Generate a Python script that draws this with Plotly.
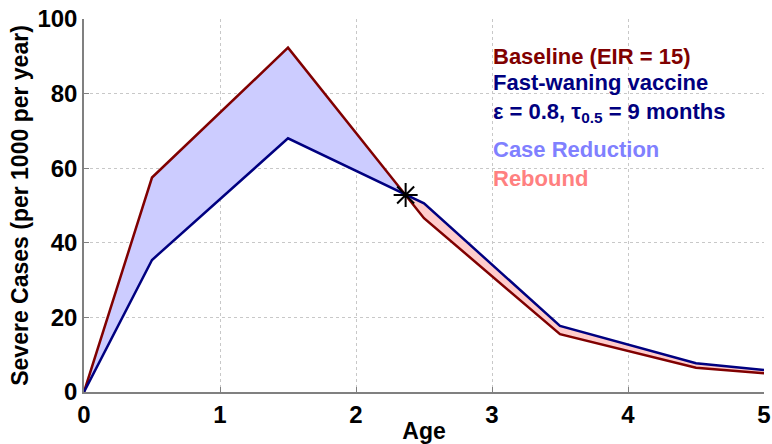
import plotly.graph_objects as go

ages = [0, 0.5, 1.5, 2.5, 3.5, 4.5, 5]
baseline = [0, 57.5, 92.3, 46.6, 15.5, 6.5, 5.0]
vaccine = [0, 35.4, 68.0, 50.6, 17.7, 7.7, 5.9]
cross_x = [2.365]
cross_y = [52.8]

RED = "#800000"
NAVY = "#000080"
FONT = "Liberation Sans, Arial, sans-serif"

pre = [i for i, a in enumerate(ages) if a < cross_x[0]]
post = [i for i, a in enumerate(ages) if a > cross_x[0]]

red_x = [ages[i] for i in pre] + cross_x + [ages[i] for i in reversed(pre)]
red_y = [baseline[i] for i in pre] + cross_y + [vaccine[i] for i in reversed(pre)]
reb_x = cross_x + [ages[i] for i in post] + [ages[i] for i in reversed(post)] + cross_x
reb_y = cross_y + [baseline[i] for i in post] + [vaccine[i] for i in reversed(post)] + cross_y

fig = go.Figure()
fig.add_trace(go.Scatter(x=red_x, y=red_y, fill="toself", fillcolor="#ccccff",
                         line=dict(width=0), mode="lines", hoverinfo="skip"))
fig.add_trace(go.Scatter(x=reb_x, y=reb_y, fill="toself", fillcolor="#ffcccc",
                         line=dict(width=0), mode="lines", hoverinfo="skip"))
fig.add_trace(go.Scatter(x=ages, y=baseline, mode="lines", line=dict(color=RED, width=2.5)))
fig.add_trace(go.Scatter(x=ages, y=vaccine, mode="lines", line=dict(color=NAVY, width=2.5)))
fig.add_trace(go.Scatter(x=cross_x, y=cross_y, mode="markers",
                         marker=dict(symbol="asterisk-open", size=20, color="black",
                                     line=dict(color="black", width=2))))

L, R, T, B = 84, 8, 19, 52
W, H = 772, 444
pw, ph = W - L - R, H - T - B

ann = [
    ("<b>Baseline (EIR = 15)</b>", 57, RED),
    ("<b>Fast-waning vaccine<br>ε = 0.8, τ<sub>0.5</sub> = 9 months</b>", 98, NAVY),
    ("<b><span style='color:#8080ff'>Case Reduction</span><br>"
     "<span style='color:#ff8080'>Rebound</span></b>", 164, "#8080ff"),
]
for text, ypix, col in ann:
    fig.add_annotation(x=(491 - L) / pw, y=(H - ypix - B) / ph, xref="paper", yref="paper",
                       text=text, align="left",
                       showarrow=False, xanchor="left", yanchor="middle",
                       font=dict(family=FONT, size=22, color=col))

axis_common = dict(showgrid=True, gridcolor="#c8c8c8", griddash="dot", gridwidth=1,
                   showline=True, linecolor="#808080", linewidth=1.5,
                   ticks="inside", ticklen=5, tickcolor="#808080",
                   tickfont=dict(family=FONT, size=24, color="black", weight="bold"),
                   zeroline=False, ticklabelstandoff=0, automargin=False)
fig.update_xaxes(range=[0, 5], dtick=1, title=dict(text="<b>Age</b>", standoff=0,
                 font=dict(family=FONT, size=23, color="black")), **axis_common)
fig.update_yaxes(range=[0, 100], dtick=20, title=dict(text="<b>Severe Cases (per 1000 per year)</b>",
                 standoff=2, font=dict(family=FONT, size=23, color="black")), **axis_common)
fig.update_layout(width=W, height=H, margin=dict(l=L, r=R, t=T, b=B),
                  plot_bgcolor="white", paper_bgcolor="white", showlegend=False)
fig.write_html("out.html")
